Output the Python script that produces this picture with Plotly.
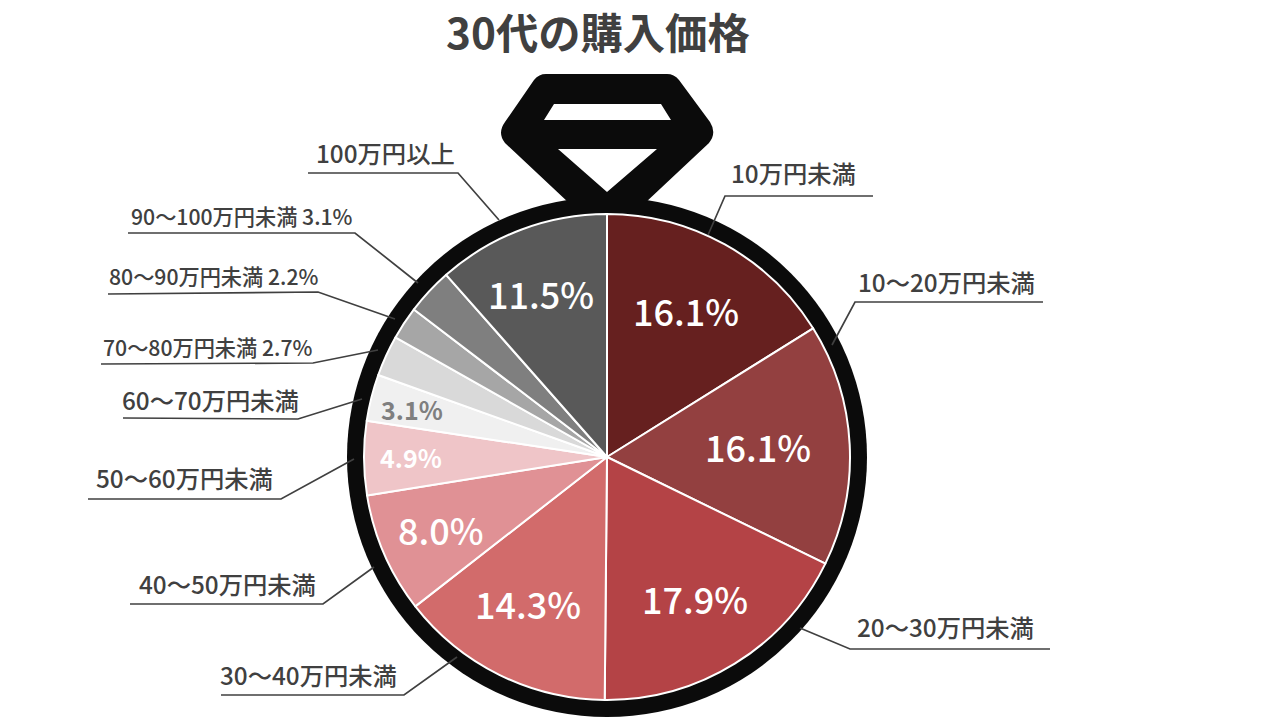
import plotly.graph_objects as go

W, H = 1280, 720

categories = ["10万円未満", "10～20万円未満", "20～30万円未満", "30～40万円未満", "40～50万円未満",
              "50～60万円未満", "60～70万円未満", "70～80万円未満", "80～90万円未満", "90～100万円未満", "100万円以上"]
shares = [16.1, 16.1, 17.9, 14.3, 8.0, 4.9, 3.1, 2.7, 2.2, 3.1, 11.5]
slice_colors = ["#66201F", "#934040", "#B44346", "#D26B6B", "#E09195", "#EFC5C8",
                "#F0F0F0", "#D9D9D9", "#A6A6A6", "#7F7F7F", "#595959"]

FONT = "Noto Sans CJK JP"
DARK = "#404040"
RING = "#0B0B0B"
CX, CY, R, R_OUT = 607, 457, 243, 260


def px(x):
    return x / W


def py(y):
    return 1 - y / H


def line_path(pts):
    return "M " + " L ".join(f"{px(x):.5f},{py(y):.5f}" for x, y in pts)


shapes = []
# ring
shapes.append(dict(type="circle", xref="paper", yref="paper", layer="below",
                   x0=px(CX - R_OUT), x1=px(CX + R_OUT), y0=py(CY + R_OUT), y1=py(CY - R_OUT),
                   fillcolor=RING, line=dict(width=0)))


def P(x, y):
    return f"{px(x):.5f},{py(y):.5f}"


gem = ("M " + P(569, 203) + " L " + P(505, 143) + " Q " + P(497, 133) + " " + P(505, 122)
       + " L " + P(534, 80) + " Q " + P(539, 74) + " " + P(546, 74)
       + " L " + P(667, 74) + " Q " + P(674, 74) + " " + P(679, 80)
       + " L " + P(710, 122) + " Q " + P(717, 133) + " " + P(709, 143)
       + " L " + P(645, 203) + " Z "
       + "M " + P(554, 104) + " L " + P(661, 104) + " L " + P(671, 120) + " L " + P(544, 120) + " Z "
       + "M " + P(558, 149) + " L " + P(657, 149) + " L " + P(607, 192) + " Z")
shapes.append(dict(type="path", xref="paper", yref="paper", layer="below", path=gem,
                   fillcolor=RING, line=dict(width=0), fillrule="evenodd"))

# leader lines, one per category
leaders = [
    [(873, 196), (725, 196), (708, 235)],
    [(1043, 302), (855, 302), (832, 345)],
    [(1050, 649), (850, 649), (800, 628)],
    [(221, 695), (404, 695), (457, 657)],
    [(130, 604), (323, 604), (374, 567)],
    [(88, 499), (281, 499), (354, 459)],
    [(123, 418), (298, 419), (362, 399)],
    [(101, 364), (313, 363), (378, 350)],
    [(108, 294), (318, 292), (395, 319)],
    [(128, 233), (355, 233), (418, 283)],
    [(308, 173), (458, 173), (499, 220)],
]
for pts in leaders:
    shapes.append(dict(type="path", xref="paper", yref="paper", layer="above", path=line_path(pts),
                       line=dict(color=DARK, width=1.7)))

annotations = [dict(text="30代の購入価格", x=px(598), y=py(31), xref="paper", yref="paper",
                    xanchor="center", yanchor="middle", showarrow=False,
                    font=dict(family=FONT, size=42.3, color=DARK, weight=700))]

# outside labels
label_xy = [(793, 172), (946, 282), (945, 626), (308, 674), (227, 583), (184, 477),
            (210, 399), (207, 346), (213, 275), (242, 215), (385, 152)]
label_size = [24.3, 24.3, 24.3, 24.3, 24.3, 24.3, 24.3, 21.2, 21.2, 21.2, 24.3]
label_with_pct = {7, 8, 9}
for i, name in enumerate(categories):
    t = f"{name} {shares[i]:.1f}%" if i in label_with_pct else name
    annotations.append(dict(text=t, x=px(label_xy[i][0]), y=py(label_xy[i][1]), xref="paper", yref="paper",
                            xanchor="center", yanchor="middle", showarrow=False,
                            font=dict(family=FONT, size=label_size[i], color=DARK, weight=500)))

# percentage labels inside the slices
pct_xy = {0: (686, 310, 36, "#FFFFFF", 500), 1: (758, 446, 36, "#FFFFFF", 500), 2: (695, 598, 36, "#FFFFFF", 500),
          3: (528, 603, 36, "#FFFFFF", 500), 4: (441, 529, 36, "#FFFFFF", 500), 5: (411, 457, 25, "#FFFFFF", 700),
          6: (412, 409, 25, "#7F7F7F", 700), 10: (541, 293, 36, "#FFFFFF", 500)}
for i, (x, y, s, c, wt) in pct_xy.items():
    annotations.append(dict(text=f"{shares[i]:.1f}%", x=px(x), y=py(y), xref="paper", yref="paper",
                            xanchor="center", yanchor="middle", showarrow=False,
                            font=dict(family=FONT, size=s, color=c, weight=wt)))

fig = go.Figure(go.Pie(
    labels=categories, values=shares, sort=False, direction="clockwise", rotation=0,
    textinfo="none", showlegend=False, hole=0,
    marker=dict(colors=slice_colors, line=dict(color="#FFFFFF", width=2)),
    domain=dict(x=[px(CX - R), px(CX + R)], y=[py(CY + R), py(CY - R)]),
))
fig.update_layout(width=W, height=H, margin=dict(l=0, r=0, t=0, b=0),
                  paper_bgcolor="#FFFFFF", plot_bgcolor="#FFFFFF",
                  shapes=shapes, annotations=annotations, font=dict(family=FONT))
fig.write_html("out.html", config={"displayModeBar": False},
               post_script="document.body.style.margin='0';")
